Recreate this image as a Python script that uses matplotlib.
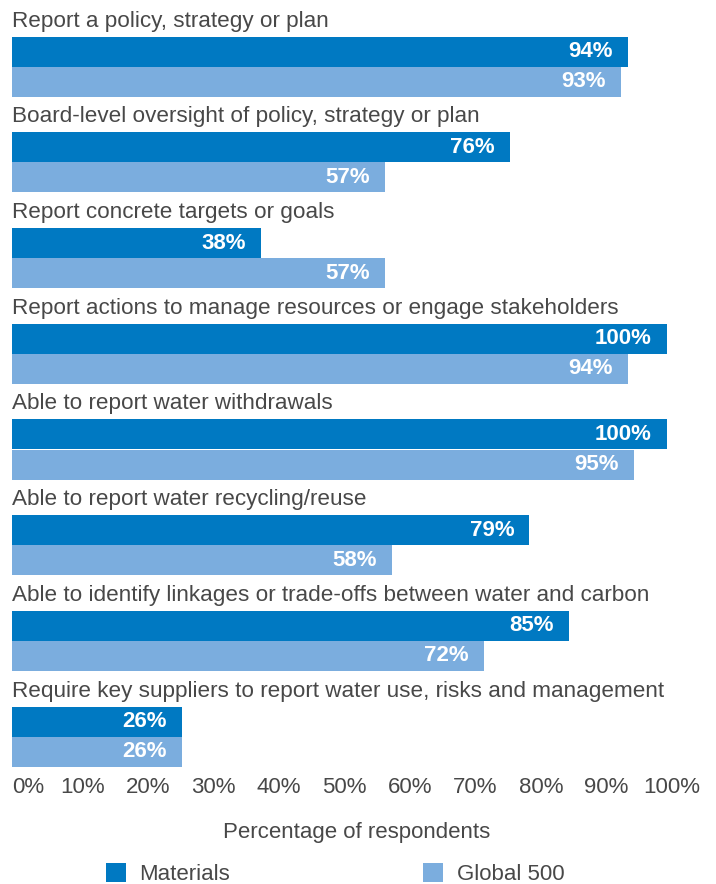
"""Water reporting practices: Materials sector vs Global 500 (horizontal paired bars)."""

import matplotlib

matplotlib.use("Agg")
import matplotlib.pyplot as plt  # noqa: E402
from matplotlib.patches import Patch  # noqa: E402
from matplotlib.transforms import ScaledTranslation  # noqa: E402

plt.rcParams["font.family"] = ["Liberation Sans", "DejaVu Sans"]

categories = [
    "Report a policy, strategy or plan",
    "Board-level oversight of policy, strategy or plan",
    "Report concrete targets or goals",
    "Report actions to manage resources or engage stakeholders",
    "Able to report water withdrawals",
    "Able to report water recycling/reuse",
    "Able to identify linkages or trade-offs between water and carbon",
    "Require key suppliers to report water use, risks and management",
]
materials = [94, 76, 38, 100, 100, 79, 85, 26]
global_500 = [93, 57, 57, 94, 95, 58, 72, 26]
series_names = ["Materials", "Global 500"]
tick_values = [0, 10, 20, 30, 40, 50, 60, 70, 80, 90, 100]

DARK = "#0079C2"
LIGHT = "#7BADDE"
TEXT = "#484848"

W, H = 716, 884
pitch = 95.7               # px per category block
bar_h = 30 / pitch         # bar thickness in category units
label_gap = 10 / pitch     # gap between label baseline and first bar

fig = plt.figure(figsize=(W / 100, H / 100), dpi=100)
ax = fig.add_axes([12 / W, 1 - 766.6 / H, 655 / W, 766.6 / H])

ys = list(range(len(categories)))
ax.barh(ys, materials, height=bar_h, color=DARK, linewidth=0)
ax.barh([y + bar_h for y in ys], global_500, height=bar_h, color=LIGHT, linewidth=0)

for y, name, m, g in zip(ys, categories, materials, global_500):
    ax.text(0, y - bar_h / 2 - label_gap, name, ha="left", va="baseline",
            fontsize=16.2, color=TEXT)
    for val, yy in ((m, y), (g, y + bar_h)):
        ax.annotate(f"{val}%", (val, yy), xytext=(-11, 0), textcoords="offset points",
                    ha="right", va="center", fontsize=16, fontweight="bold",
                    color="white")

ax.set_xlim(0, 100)
ax.set_ylim(len(categories) - 1 + 1.5 * bar_h, -bar_h / 2 - 36.7 / pitch)
ax.set_yticks([])
ax.set_xticks(tick_values)
ax.set_xticklabels([f"{t}%" for t in tick_values])
ax.tick_params(axis="x", length=0, pad=7.5, labelsize=16, labelcolor=TEXT)
ticklabels = ax.get_xticklabels()
ticklabels[0].set_horizontalalignment("left")
# spread the remaining labels a little to the right so 0% and 10% don't crowd
shift = ScaledTranslation(0.05, 0, fig.dpi_scale_trans)
for lbl in ticklabels[1:]:
    lbl.set_transform(lbl.get_transform() + shift)
for s in ax.spines.values():
    s.set_visible(False)
ax.set_xlabel("Percentage of respondents", fontsize=16, color=TEXT)
ax.xaxis.set_label_coords(345 / 655, -55 / 766.6)

handles = [Patch(facecolor=DARK, edgecolor="none"), Patch(facecolor=LIGHT, edgecolor="none")]
fig.legend(handles, series_names, loc="center left", bbox_to_anchor=(106 / W, 1 - 874 / H),
           ncol=2, frameon=False, fontsize=16, labelcolor=TEXT, handlelength=0.9,
           handleheight=0.9, handletextpad=0.6, columnspacing=8.7, borderpad=0,
           borderaxespad=0)

fig.savefig("out.png", dpi=100)
plt.close(fig)
